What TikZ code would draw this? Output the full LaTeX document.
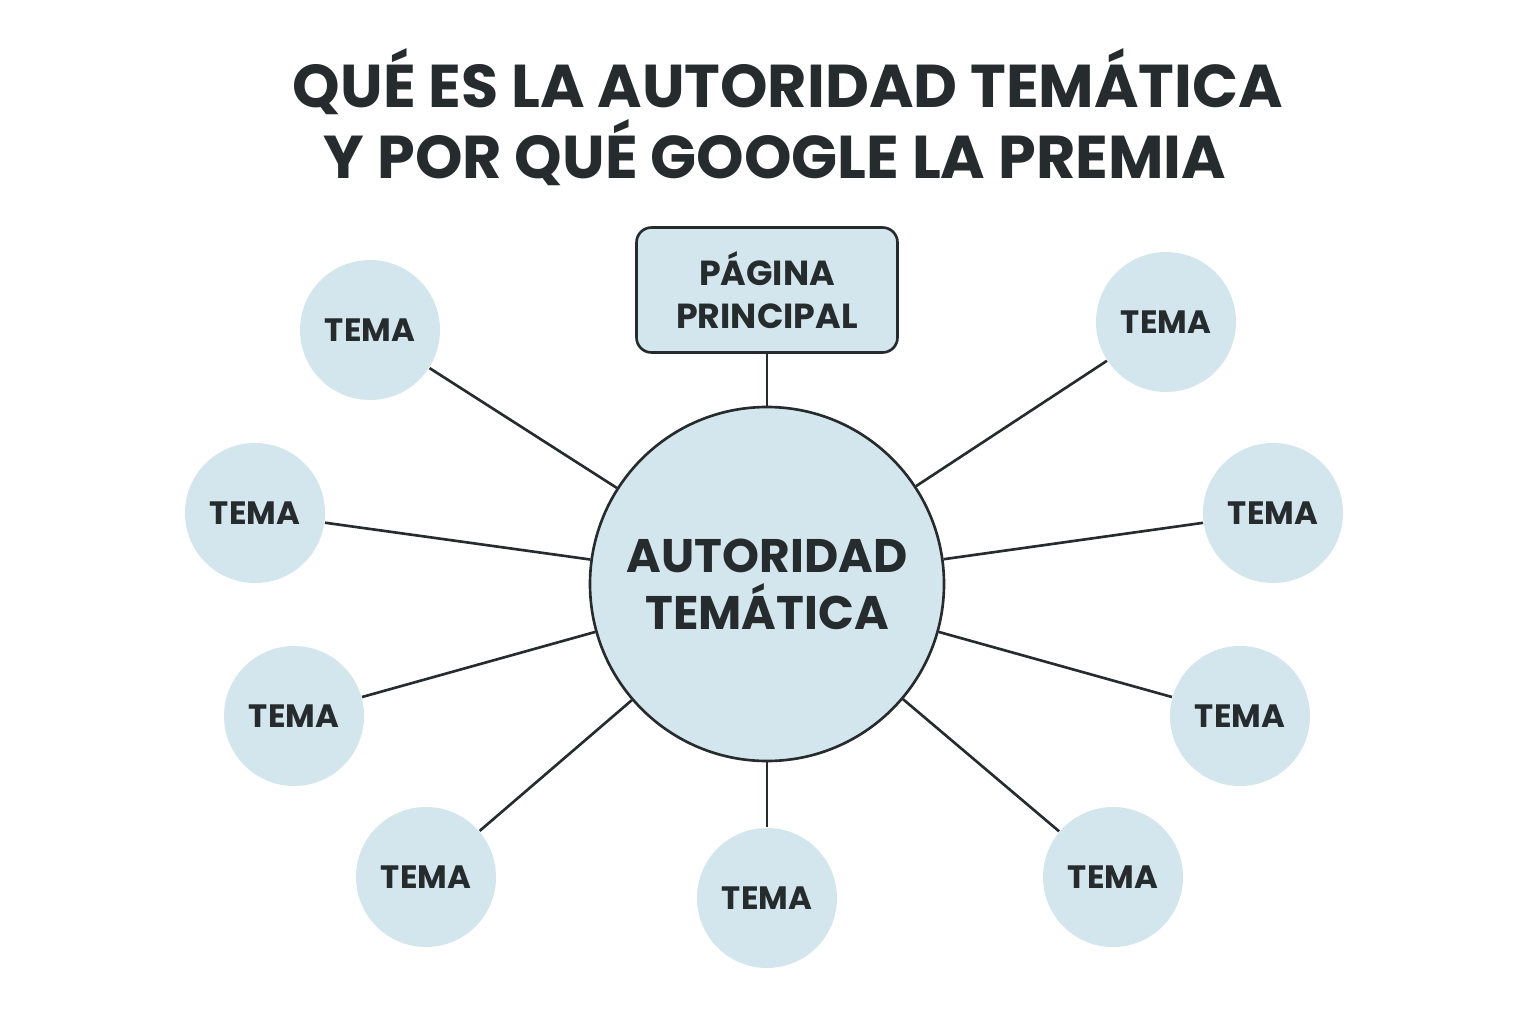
\documentclass[tikz,border=0pt]{standalone}
\usepackage{fontspec}
\setmainfont{Poppins}[BoldFont={Poppins Bold}]
\definecolor{ink}{HTML}{262B2E}
\definecolor{paleblue}{HTML}{D3E6EE}
\begin{document}
\begin{tikzpicture}[
    title/.style={font=\bfseries\fontsize{17.2}{21}\selectfont, text=ink},
    hub/.style={circle, draw=ink, line width=0.75pt, fill=paleblue, minimum size=3.54cm, align=center, font=\bfseries\fontsize{13.4}{16.3}\selectfont, text=ink},
    pagebox/.style={rectangle, rounded corners=0.15cm, draw=ink, line width=0.75pt, fill=paleblue, minimum width=2.61cm, minimum height=1.25cm, align=center, font=\bfseries\fontsize{9.9}{12.2}\selectfont, text=ink},
    tema/.style={circle, fill=paleblue, minimum size=1.40cm, text depth=0pt, font=\bfseries\fontsize{9.2}{11}\selectfont, text=ink},
    spoke/.style={draw=ink, line width=0.75pt}
]
    \useasboundingbox[fill=white] (0,0) rectangle (15.36,10.24);

    % Title
    \node[title] (title1) at (7.88,9.42) {QUÉ ES LA AUTORIDAD TEMÁTICA};
    \node[title] (title2) at (7.75,8.71) {Y POR QUÉ GOOGLE LA PREMIA};

    % Hub and main page
    \node[hub] (hub) at (7.67,4.40) {AUTORIDAD\\TEMÁTICA};
    \node[pagebox] (page) at (7.67,7.34) {PÁGINA\\PRINCIPAL};

    % Topics
    \node[tema] (temaA) at (3.70,6.94) {TEMA};
    \node[tema] (temaB) at (2.55,5.11) {TEMA};
    \node[tema] (temaC) at (2.94,3.08) {TEMA};
    \node[tema] (temaD) at (4.26,1.47) {TEMA};
    \node[tema] (temaE) at (7.67,1.26) {TEMA};
    \node[tema] (temaF) at (11.13,1.47) {TEMA};
    \node[tema] (temaG) at (12.40,3.08) {TEMA};
    \node[tema] (temaH) at (12.73,5.11) {TEMA};
    \node[tema] (temaI) at (11.66,7.02) {TEMA};

    % Spokes
    \draw[spoke] (page) -- (hub);
    \draw[spoke] (hub) -- (temaA);
    \draw[spoke] (hub) -- (temaB);
    \draw[spoke] (hub) -- (temaC);
    \draw[spoke] (hub) -- (temaD);
    \draw[spoke] (hub) -- (temaE);
    \draw[spoke] (hub) -- (temaF);
    \draw[spoke] (hub) -- (temaG);
    \draw[spoke] (hub) -- (temaH);
    \draw[spoke] (hub) -- (temaI);

\end{tikzpicture}
\end{document}
